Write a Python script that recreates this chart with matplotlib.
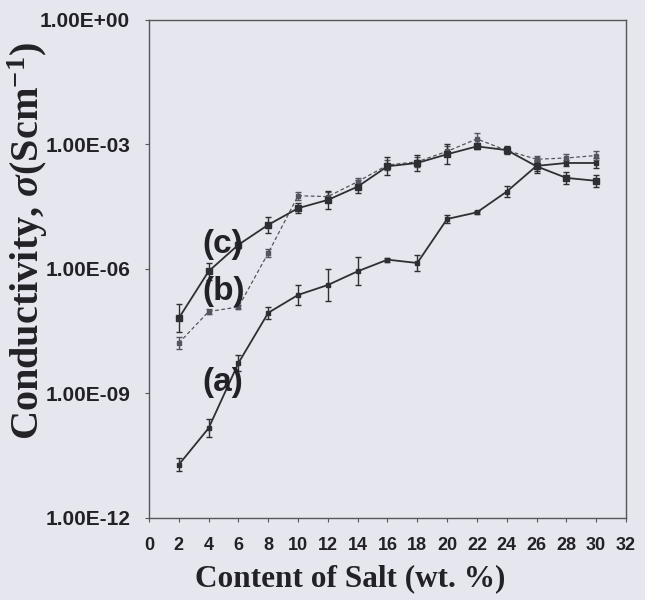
import matplotlib.pyplot as plt
import numpy as np

# --- data (log10 of conductivity, S/cm) ---
salt = [2, 4, 6, 8, 10, 12, 14, 16, 18, 20, 22, 24, 26, 28, 30]

log_a = [-10.72, -9.84, -8.27, -7.06, -6.63, -6.39, -6.06, -5.78, -5.86,
         -4.80, -4.64, -4.14, -3.52, -3.45, -3.45]
log_b = [-7.79, -7.03, -6.92, -5.62, -4.24, -4.26, -3.90, -3.50, -3.42,
         -3.17, -2.87, -3.15, -3.36, -3.33, -3.27]
log_c = [-7.19, -6.06, -5.42, -4.94, -4.54, -4.34, -4.02, -3.53, -3.45,
         -3.24, -3.05, -3.14, -3.53, -3.81, -3.88]

# half-length of error bars, in decades
err_a = [0.15, 0.22, 0.19, 0.15, 0.24, 0.39, 0.34, 0.05, 0.19,
         0.10, 0.03, 0.13, 0.12, 0.07, 0.12]
err_b = [0.15, 0.07, 0.05, 0.10, 0.10, 0.10, 0.10, 0.12, 0.12,
         0.12, 0.15, 0.07, 0.07, 0.10, 0.10]
err_c = [0.34, 0.20, 0.07, 0.19, 0.12, 0.22, 0.15, 0.22, 0.19,
         0.24, 0.07, 0.10, 0.15, 0.15, 0.15]

ytick_vals = [1e-12, 1e-9, 1e-6, 1e-3, 1e0]
ytick_labels = ['1.00E-12', '1.00E-09', '1.00E-06', '1.00E-03', '1.00E+00']
xtick_vals = list(range(0, 33, 2))

plt.rcParams['mathtext.fontset'] = 'custom'
plt.rcParams['mathtext.rm'] = 'Liberation Serif:bold'
plt.rcParams['mathtext.it'] = 'Liberation Serif:italic:bold'
plt.rcParams['mathtext.bf'] = 'Liberation Serif:bold'

bg = '#e6e6ee'
ink = '#2e2e33'

fig, ax = plt.subplots(figsize=(6.45, 6.0), dpi=100)
fig.subplots_adjust(left=0.231, right=0.9705, bottom=0.137, top=0.967)
fig.patch.set_facecolor(bg)
ax.set_facecolor(bg)


def draw(logs, errs, **kw):
    y = 10 ** np.array(logs)
    e = np.array(errs)
    yerr = [y - y * 10 ** (-e), y * 10 ** e - y]
    ax.errorbar(salt, y, yerr=yerr, capsize=2, elinewidth=1.0,
                capthick=1.0, ecolor=kw.get('color', ink), **kw)


draw(log_a, err_a, color=ink, lw=1.3, marker='s', ms=2.5)
draw(log_b, err_b, color='#55555f', lw=0.9, ls=(0, (3, 2)), marker='s', ms=2.5)
draw(log_c, err_c, color=ink, lw=1.3, marker='s', ms=4)

# series labels
lab_font = dict(family='Liberation Sans', fontweight='bold', fontsize=24,
                color='#222226', va='center', ha='left')
ax.text(3.6, 10 ** -5.42, '(c)', **lab_font)
ax.text(3.6, 10 ** -6.55, '(b)', **lab_font)
ax.text(3.6, 10 ** -8.75, '(a)', **lab_font)

# axes
ax.set_yscale('log')
ax.set_ylim(1e-12, 1e0)
ax.set_xlim(0, 32)
ax.set_yticks(ytick_vals)
ax.set_yticklabels(ytick_labels)
ax.yaxis.set_minor_locator(plt.NullLocator())
ax.set_xticks(xtick_vals)

for s in ax.spines.values():
    s.set_color('#55555c')
    s.set_linewidth(1.0)

ax.tick_params(axis='both', direction='out', length=3, width=0.8,
               color='#55555c')
ax.tick_params(axis='y', pad=10.5)
ax.tick_params(axis='x', pad=11)
for t in ax.get_yticklabels():
    t.set_fontfamily('Liberation Sans')
    t.set_fontweight('bold')
    t.set_fontsize(15)
    t.set_color('#222226')
for t in ax.get_xticklabels():
    t.set_fontfamily('Liberation Sans')
    t.set_fontweight('bold')
    t.set_fontsize(13)
    t.set_color('#222226')

ax.set_xlabel('Content of Salt (wt. %)', family='Liberation Serif',
              fontweight='bold', fontsize=22.5, color='#222226')
ax.set_ylabel(r'Conductivity, $\sigma$(Scm$^{-1}$)', family='Liberation Serif',
              fontweight='bold', fontsize=29, color='#222226')
ax.xaxis.set_label_coords(0.421, -0.093)
ax.yaxis.set_label_coords(-0.208, 0.556)

fig.savefig('out.png', dpi=100, facecolor=bg)
